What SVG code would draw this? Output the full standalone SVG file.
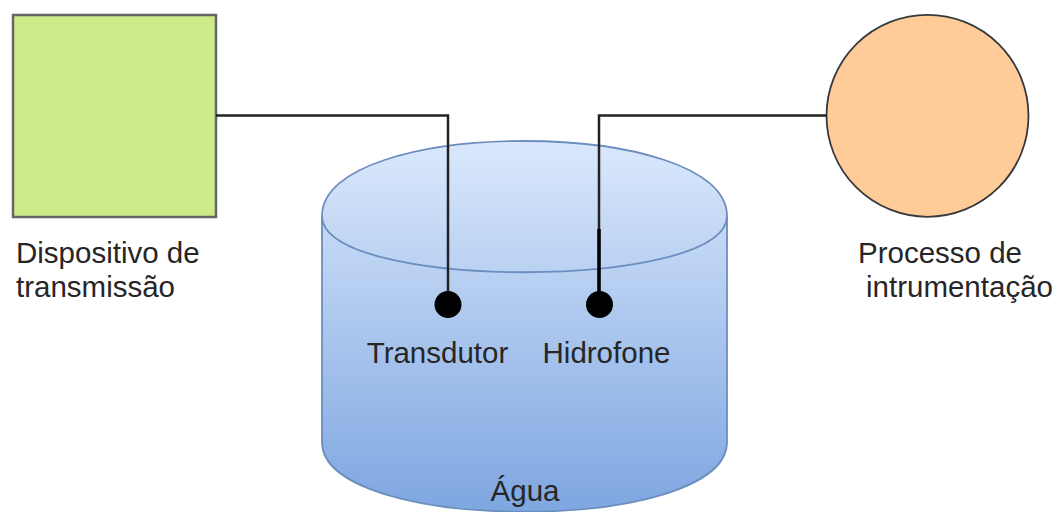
<svg xmlns="http://www.w3.org/2000/svg" width="1061" height="512" viewBox="0 0 1061 512">
  <defs>
    <linearGradient id="water" x1="0" y1="0" x2="0" y2="1">
      <stop offset="0" stop-color="#dae8fc"/>
      <stop offset="1" stop-color="#7ea6e0"/>
    </linearGradient>
  </defs>
  <style>
    .label { font-family: "Liberation Sans", Arial, Helvetica, sans-serif; font-size: 29.5px; fill: #262626; }
    .wire { fill: none; stroke: #222; stroke-width: 2.5; }
    .probe { fill: #000; }
  </style>
  <rect width="1061" height="512" fill="#ffffff"/>

  <!-- water tank -->
  <g id="agua">
    <path d="M322,216 C322,116 727,116 727,216 L727,442 C727,535 322,535 322,442 Z" fill="url(#water)" stroke="#6c8ebf" stroke-width="1.8"/>
    <path d="M322,216 C322,291 727,291 727,216" fill="none" stroke="#6c8ebf" stroke-width="1.8"/>
    <text class="label" x="525" y="501" text-anchor="middle">Água</text>
  </g>

  <!-- transmitter -->
  <g id="dispositivo">
    <rect x="13" y="15" width="203" height="202" fill="#cdeb8b" stroke="#666666" stroke-width="2.5"/>
    <text class="label" x="16" y="263">Dispositivo de</text>
    <text class="label" x="16" y="297">transmissão</text>
  </g>

  <!-- instrumentation -->
  <g id="processo">
    <circle cx="927.5" cy="115.8" r="101" fill="#ffcc99" stroke="#36393d" stroke-width="1.8"/>
    <text class="label" x="858" y="263">Processo de</text>
    <text class="label" x="866" y="297">intrumentação</text>
  </g>

  <!-- cabling -->
  <g id="connectors">
    <path class="wire" d="M216,115.5 H448 V304"/>
    <path class="wire" d="M826.5,115.5 H599 V304"/>
    <path d="M599,229 V304" stroke="#000" stroke-width="3.5" fill="none"/>
  </g>

  <g id="transdutor">
    <circle class="probe" cx="448" cy="304.5" r="13.5"/>
    <text class="label" x="437.5" y="363" text-anchor="middle">Transdutor</text>
  </g>

  <g id="hidrofone">
    <circle class="probe" cx="599.5" cy="304.5" r="13.5"/>
    <text class="label" x="606.5" y="363" text-anchor="middle">Hidrofone</text>
  </g>
</svg>
